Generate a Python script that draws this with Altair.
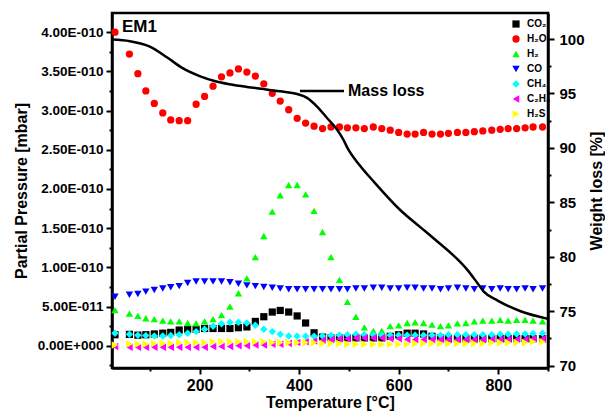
import altair as alt
import pandas as pd

# Sampling temperatures (deg C) of the MS signals
temps = [30, 59, 76, 92, 109, 126, 142, 159, 176, 193,
         210, 227, 244, 261, 278, 295, 312, 329, 346, 362,
         379, 396, 413, 430, 447, 464, 481, 497, 514, 531,
         549, 566, 583, 600, 617, 633, 650, 667, 684, 700,
         718, 735, 752, 769, 787, 804, 820, 837, 854, 870, 889]

# Partial pressures in units of 1e-10 mbar
co2 = [0.14, 0.145, 0.135, 0.14, 0.15, 0.16, 0.17, 0.20, 0.21, 0.21,
       0.22, 0.22, 0.22, 0.22, 0.23, 0.24, 0.31, 0.37, 0.43, 0.45,
       0.43, 0.38, 0.29, 0.165, 0.11, 0.10, 0.10, 0.10, 0.10, 0.10,
       0.10, 0.10, 0.12, 0.14, 0.16, 0.16, 0.15, 0.12, 0.10, 0.09,
       0.09, 0.09, 0.09, 0.09, 0.09, 0.09, 0.09, 0.09, 0.09, 0.09, 0.09]
h2o = [4.00, 3.72, 3.47, 3.25, 3.09, 2.97, 2.88, 2.87, 2.87, 3.08,
       3.18, 3.31, 3.43, 3.48, 3.53, 3.49, 3.44, 3.34, 3.22, 3.12,
       3.01, 2.90, 2.84, 2.80, 2.77, 2.79, 2.79, 2.78, 2.78, 2.77,
       2.79, 2.77, 2.75, 2.72, 2.70, 2.70, 2.72, 2.70, 2.70, 2.71,
       2.72, 2.72, 2.73, 2.74, 2.75, 2.76, 2.77, 2.77, 2.78, 2.79, 2.79]
h2 = [0.455, 0.41, 0.38, 0.35, 0.34, 0.32, 0.31, 0.31, 0.29, 0.285,
      0.31, 0.34, 0.39, 0.50, 0.67, 0.86, 1.13, 1.40, 1.71, 1.92,
      2.05, 2.05, 1.93, 1.72, 1.45, 1.13, 0.84, 0.56, 0.37, 0.235,
      0.19, 0.19, 0.25, 0.26, 0.29, 0.30, 0.29, 0.27, 0.25, 0.26,
      0.285, 0.29, 0.31, 0.32, 0.32, 0.33, 0.32, 0.33, 0.33, 0.32, 0.31]
co = [0.625, 0.65, 0.66, 0.69, 0.71, 0.73, 0.745, 0.76, 0.80, 0.82,
      0.82, 0.82, 0.82, 0.81, 0.79, 0.77, 0.76, 0.75, 0.74, 0.73,
      0.72, 0.72, 0.72, 0.72, 0.72, 0.72, 0.72, 0.72, 0.73, 0.73,
      0.74, 0.74, 0.73, 0.73, 0.74, 0.74, 0.73, 0.73, 0.72, 0.73,
      0.74, 0.73, 0.72, 0.73, 0.72, 0.73, 0.72, 0.72, 0.73, 0.72, 0.73]
ch4 = [0.16, 0.145, 0.135, 0.13, 0.125, 0.125, 0.13, 0.14, 0.16, 0.18,
       0.21, 0.25, 0.28, 0.30, 0.30, 0.29, 0.26, 0.21, 0.18, 0.145,
       0.125, 0.12, 0.12, 0.12, 0.125, 0.13, 0.135, 0.14, 0.145, 0.14,
       0.14, 0.135, 0.135, 0.135, 0.135, 0.135, 0.135, 0.135, 0.135, 0.14,
       0.14, 0.14, 0.14, 0.14, 0.14, 0.145, 0.145, 0.15, 0.15, 0.155, 0.16]
c2h6 = [-0.01, -0.02, -0.02, -0.02, -0.02, -0.02, -0.02, -0.02, -0.02, -0.02,
        -0.02, -0.01, -0.01, -0.01, 0.0, 0.0, 0.01, 0.01, 0.02, 0.02,
        0.03, 0.04, 0.05, 0.06, 0.07, 0.08, 0.09, 0.09, 0.10, 0.10,
        0.10, 0.10, 0.09, 0.09, 0.08, 0.08, 0.08, 0.08, 0.08, 0.08,
        0.08, 0.08, 0.08, 0.08, 0.08, 0.08, 0.08, 0.08, 0.08, 0.09, 0.09]
h2s = [0.01, 0.02, 0.02, 0.02, 0.03, 0.03, 0.03, 0.04, 0.04, 0.04,
       0.04, 0.05, 0.05, 0.05, 0.05, 0.05, 0.05, 0.05, 0.04, 0.04,
       0.04, 0.04, 0.04, 0.04, 0.03, 0.03, 0.03, 0.02, 0.02, 0.02,
       0.02, 0.02, 0.02, 0.02, 0.02, 0.03, 0.03, 0.03, 0.03, 0.03,
       0.03, 0.03, 0.03, 0.03, 0.04, 0.04, 0.04, 0.04, 0.04, 0.05, 0.05]

gases = ["CO\u2082", "H\u2082O", "H\u2082", "CO", "CH\u2084", "C\u2082H\u2086", "H\u2082S"]
colors = ["#000000", "#ff0000", "#00ff00", "#0000ff", "#00ffff", "#ff00ff", "#ffff00"]
shapes = ["square", "circle", "triangle-up", "triangle-down", "diamond",
          "triangle-left", "triangle-right"]
sizes = [52, 58, 76, 76, 66, 62, 62]

# Mass loss curve (TG)
ml_temp = [24, 60, 100, 135, 165, 200, 230, 260, 295, 330, 362, 396, 416, 436,
           456, 476, 489, 497, 520, 550, 603, 644, 670, 738, 758, 771, 798, 845, 900]
ml_weight = [99.95, 99.8, 99.3, 98.3, 97.35, 96.6, 96.15, 95.85, 95.6, 95.4, 95.2,
             94.95, 94.6, 93.8, 92.75, 91.7, 90.75, 90.0, 88.5, 86.9, 84.3, 82.7,
             81.7, 78.8, 77.6, 76.8, 76.0, 75.0, 74.3]

series = [co2, h2o, h2, co, ch4, c2h6, h2s]
rows = []
for g, vals in zip(gases, series):
    for t, v in zip(temps, vals):
        rows.append({"T": t, "P": v, "gas": g})
df = pd.DataFrame(rows)
dfm = pd.DataFrame({"T": ml_temp, "W": ml_weight})

FONT = "Liberation Sans"

xscale = alt.Scale(domain=[24, 900], nice=False, zero=False)
xaxis = alt.Axis(
    values=[100, 200, 300, 400, 500, 600, 700, 800, 900],
    labelExpr="datum.value % 200 == 0 ? datum.label : ''",
    tickSize={"condition": {"test": "datum.value % 200 != 0", "value": 3}, "value": 6},
    labelFontSize=16, title="Temperature [\u00b0C]", titleFontSize=16,
    labelFlush=False, labelOverlap=False, labelPadding=3, titlePadding=1,
)

left_axis = alt.Axis(
    orient="left",
    values=[-0.25, 0, 0.25, 0.5, 0.75, 1.0, 1.25, 1.5, 1.75, 2.0, 2.25, 2.5,
            2.75, 3.0, 3.25, 3.5, 3.75, 4.0],
    labelExpr=("datum.value % 0.5 != 0 ? '' : (datum.value == 0 ? '0.00E+000' : "
               "(datum.value < 1 ? format(datum.value*10, '.2f') + 'E-011' : "
               "format(datum.value, '.2f') + 'E-010'))"),
    tickSize={"condition": {"test": "datum.value % 0.5 != 0", "value": 3}, "value": 6},
    labelFontSize=13.5, title="Partial Pressure [mbar]", titleFontSize=16,
    labelOverlap=False, labelPadding=3, titlePadding=8,
)

right_axis = alt.Axis(
    orient="right",
    values=[70, 72.5, 75, 77.5, 80, 82.5, 85, 87.5, 90, 92.5, 95, 97.5, 100],
    labelExpr="datum.value % 5 != 0 ? '' : format(datum.value, 'd')",
    tickSize={"condition": {"test": "datum.value % 5 != 0", "value": 3}, "value": 6},
    labelFontSize=15, title="Weight loss [%]", titleFontSize=16,
    titleAngle=270, titleBaseline="top",
    labelOverlap=False, labelPadding=5, titlePadding=4,
)

leg = alt.Legend(
    title=None, orient="none", legendX=399, legendY=6,
    symbolSize=64, labelFontSize=10, labelFontWeight="bold", labelFont=FONT,
    rowPadding=5, labelOffset=6, padding=0, symbolStrokeWidth=0, labelLimit=60,
)

points = alt.Chart(df).mark_point(filled=True, opacity=1, strokeWidth=0).encode(
    x=alt.X("T:Q", scale=xscale, axis=xaxis),
    y=alt.Y("P:Q", scale=alt.Scale(domain=[-0.284, 4.244], nice=False, zero=False),
            axis=left_axis),
    color=alt.Color("gas:N", scale=alt.Scale(domain=gases, range=colors), legend=leg),
    shape=alt.Shape("gas:N", scale=alt.Scale(domain=gases, range=shapes), legend=leg),
    size=alt.Size("gas:N", scale=alt.Scale(domain=gases, range=sizes), legend=None),
)

line = alt.Chart(dfm).mark_line(color="black", strokeWidth=2.5, interpolate="monotone").encode(
    x=alt.X("T:Q", scale=xscale, axis=xaxis),
    y=alt.Y("W:Q", scale=alt.Scale(domain=[69.79, 102.39], nice=False, zero=False),
            axis=right_axis),
)

seg = alt.Chart(pd.DataFrame({"a": [0]})).mark_rule(color="black", strokeWidth=2.5).encode(
    x=alt.value(188), x2=alt.value(232), y=alt.value(78)
)
mtxt = alt.Chart(pd.DataFrame({"label": ["Mass loss"]})).mark_text(
    align="left", baseline="middle", fontSize=16, fontWeight="bold", font=FONT, color="black"
).encode(x=alt.value(236), y=alt.value(78), text="label:N")
em1 = alt.Chart(pd.DataFrame({"label": ["EM1"]})).mark_text(
    align="left", baseline="middle", fontSize=17, fontWeight="bold", font=FONT, color="black"
).encode(x=alt.value(10), y=alt.value(14), text="label:N")

chart = alt.layer(points, line, seg, mtxt, em1).resolve_scale(y="independent").properties(
    width=436, height=355,
    autosize=alt.AutoSizeParams(type="none"),
    padding={"left": 104, "top": 5, "right": 57, "bottom": 44},
).configure_view(stroke="black", strokeWidth=2.5).configure_axis(
    domainColor="black", domainWidth=2.5, tickColor="black", tickWidth=2,
    labelColor="black", titleColor="black", labelFont=FONT, titleFont=FONT,
    labelFontWeight="bold", titleFontWeight="bold", grid=False,
)

chart.save("out.html", embed_options={"renderer": "svg", "actions": False})
